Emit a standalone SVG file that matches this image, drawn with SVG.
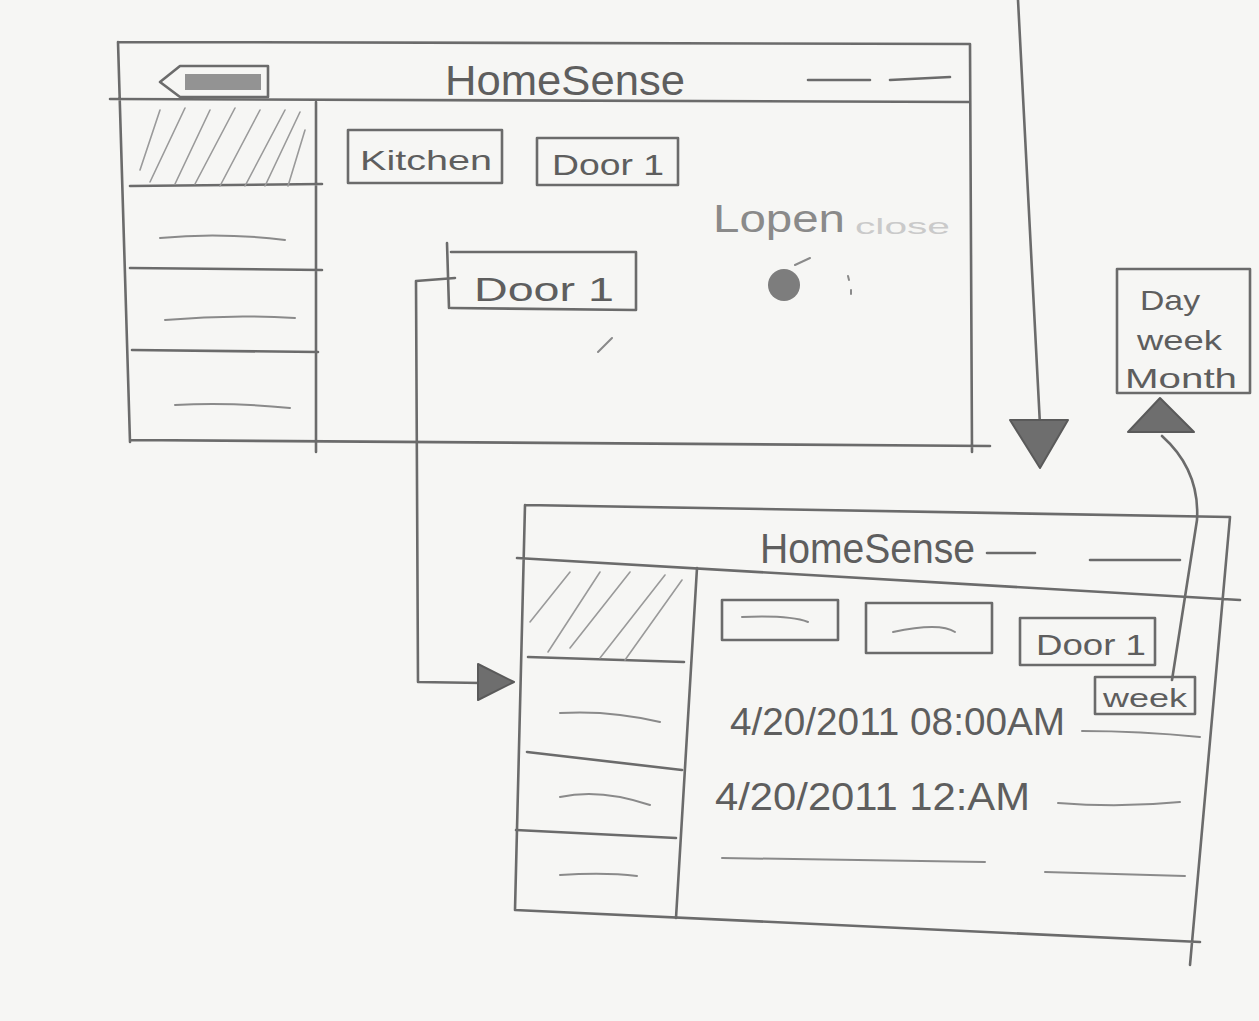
<svg xmlns="http://www.w3.org/2000/svg" width="1259" height="1021" viewBox="0 0 1259 1021">
<style>
.p{fill:none;stroke:#6b6b6b;stroke-width:2.6;stroke-linecap:round;stroke-linejoin:round}
.l{fill:none;stroke:#8a8a8a;stroke-width:2;stroke-linecap:round}
.h{fill:none;stroke:#9a9a9a;stroke-width:1.6;stroke-linecap:round}
.t{font-family:"Liberation Sans",Arial,sans-serif;fill:#5e5e5e}
.ah{fill:#6e6e6e;stroke:#5a5a5a;stroke-width:2;stroke-linejoin:round}
</style>
<rect width="1259" height="1021" fill="#f6f6f4"/>

<g id="screen-top">
  <path class="p" d="M118 42 L970 44 M118 42 L130 442 M110 99 L970 102 M970 44 L972 452 M130 440 L990 446"/>
  <g id="back-button">
    <path class="p" d="M160 82 L180 66 L268 66 L268 97 L180 97 Z"/>
    <rect x="185" y="74" width="76" height="16" fill="#7a7a7a" opacity="0.8"/>
  </g>
  <text class="t" x="445" y="95" font-size="42" textLength="240" lengthAdjust="spacingAndGlyphs">HomeSense</text>
  <path class="p" d="M808 80 L870 80 M890 80 L950 77"/>
  <g id="sidebar-top">
    <path class="p" d="M316 102 L316 452 M130 186 L322 184 M130 268 L322 270 M132 350 L318 352"/>
    <path class="h" d="M140 170 L160 110 M150 182 L185 108 M175 184 L210 110 M195 184 L235 108 M220 186 L260 110 M245 186 L285 110 M265 186 L300 112 M288 186 L305 130"/>
    <path class="l" d="M160 238 Q220 232 285 240 M165 320 Q230 314 295 318 M175 405 Q230 402 290 408"/>
  </g>
  <g id="kitchen-btn">
    <rect class="p" x="348" y="130" width="154" height="53"/>
    <text class="t" x="360" y="170" font-size="28" textLength="132" lengthAdjust="spacingAndGlyphs">Kitchen</text>
  </g>
  <g id="door1-btn-top">
    <rect class="p" x="537" y="138" width="141" height="47"/>
    <text class="t" x="552" y="175" font-size="30" textLength="112" lengthAdjust="spacingAndGlyphs">Door 1</text>
  </g>
  <text class="t" x="713" y="232" font-size="38" style="fill:#8a8a8a" textLength="132" lengthAdjust="spacingAndGlyphs">Lopen</text>
  <text class="t" x="855" y="234" font-size="22" style="fill:#cacaca" textLength="95" lengthAdjust="spacingAndGlyphs">close</text>
  <circle cx="784" cy="285" r="16" fill="#7d7d7d"/>
  <path class="l" d="M795 265 L810 258 M848 276 L849 280 M851 290 L851 294 M598 352 L612 338"/>
  <g id="door1-box">
    <path class="p" d="M447 243 L449 308 M451 252 L636 252 L636 310 L451 308"/>
    <text class="t" x="474" y="301" font-size="34" textLength="140" lengthAdjust="spacingAndGlyphs">Door 1</text>
  </g>
</g>

<g id="popup-range">
  <rect class="p" x="1117" y="269" width="133" height="124"/>
  <text class="t" x="1140" y="310" font-size="28" textLength="60" lengthAdjust="spacingAndGlyphs">Day</text>
  <text class="t" x="1137" y="350" font-size="28" textLength="85" lengthAdjust="spacingAndGlyphs">week</text>
  <text class="t" x="1125" y="388" font-size="28" textLength="112" lengthAdjust="spacingAndGlyphs">Month</text>
</g>

<g id="screen-bottom">
  <path class="p" d="M525 505 L1230 517 M525 505 L515 910 M517 558 L1240 600 M1230 517 L1190 965 M515 910 L1200 942"/>
  <text class="t" x="760" y="563" font-size="42" textLength="215" lengthAdjust="spacingAndGlyphs">HomeSense</text>
  <path class="p" d="M987 553 L1035 553 M1090 560 L1180 560"/>
  <g id="sidebar-bottom">
    <path class="p" d="M697 568 L676 918 M528 657 L684 662 M527 752 L682 770 M516 830 L676 838"/>
    <path class="h" d="M530 622 L570 572 M548 652 L600 572 M570 648 L630 572 M600 658 L665 575 M625 660 L682 580"/>
    <path class="l" d="M560 713 Q610 710 660 722 M560 797 Q600 788 650 805 M560 875 Q605 872 637 876"/>
  </g>
  <g id="btn-a">
    <rect class="p" x="722" y="600" width="116" height="40"/>
    <path class="l" d="M742 617 Q790 615 808 622"/>
  </g>
  <g id="btn-b">
    <rect class="p" x="866" y="603" width="126" height="50"/>
    <path class="l" d="M893 632 Q940 622 955 632"/>
  </g>
  <g id="door1-btn-bottom">
    <rect class="p" x="1020" y="618" width="135" height="47"/>
    <text class="t" x="1036" y="655" font-size="30" textLength="110" lengthAdjust="spacingAndGlyphs">Door 1</text>
  </g>
  <g id="week-btn">
    <rect class="p" x="1095" y="677" width="100" height="37"/>
    <text class="t" x="1103" y="707" font-size="26" textLength="84" lengthAdjust="spacingAndGlyphs">week</text>
  </g>
  <text class="t" x="730" y="735" font-size="38" textLength="335" lengthAdjust="spacingAndGlyphs">4/20/2011 08:00AM</text>
  <text class="t" x="715" y="810" font-size="38" textLength="315" lengthAdjust="spacingAndGlyphs">4/20/2011 12:AM</text>
  <path class="l" d="M1082 731 Q1140 731 1200 737 M1058 803 Q1120 808 1180 802 M722 858 L985 862 M1045 872 L1185 876"/>
</g>

<g id="connectors">
  <path class="p" d="M455 278 L416 281 L418 682 L482 683"/>
  <path class="ah" d="M478 664 L514 682 L478 700 Z"/>
  <path class="p" d="M1018 0 L1040 425"/>
  <path class="ah" d="M1010 420 L1068 420 L1040 468 Z"/>
  <path class="p" d="M1172 680 L1197 520 Q1200 470 1162 436"/>
  <path class="ah" d="M1128 432 L1160 398 L1194 432 Z"/>
</g>
</svg>
